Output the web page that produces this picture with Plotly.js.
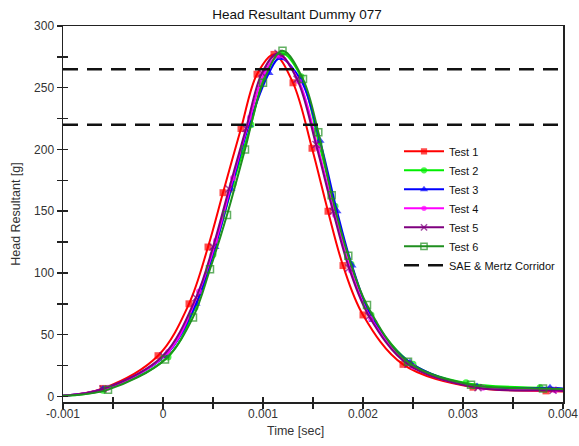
<!DOCTYPE html>
<html><head><meta charset="utf-8">
<script src="https://cdn.plot.ly/plotly-3.0.1.min.js"></script>
<style>html,body{margin:0;padding:0;background:#fff}#chart{width:579px;height:446px}</style>
</head><body><div id="chart"></div>
<script>
// ---- data (time in ms, head resultant in g) ----
const test1TimeMs = [-1.0, -0.6, -0.05, 0.26, 0.45, 0.60, 0.78, 0.94, 1.11, 1.30, 1.49, 1.65, 1.80, 2.00, 2.40, 3.10, 3.83, 4.0];
const test1G      = [0.5, 6.5, 33, 75, 121, 165, 217, 261, 277, 254, 201, 150, 106, 66, 26, 7.5, 4.5, 4];

const test2TimeMs = [-1.0, -0.6, 0.05, 0.32, 0.50, 0.70, 0.88, 1.04, 1.19, 1.38, 1.56, 1.72, 1.88, 2.08, 2.50, 3.03, 3.77, 4.0];
const test2G      = [0.5, 5, 32, 72, 115, 172, 220, 265, 278, 259, 205, 154, 107, 66, 26, 11, 7, 6];

const test3TimeMs = [-1.0, -0.6, 0.02, 0.33, 0.52, 0.68, 0.86, 1.06, 1.17, 1.38, 1.57, 1.74, 1.89, 2.10, 2.47, 3.14, 3.87, 4.0];
const test3G      = [0.5, 6, 33, 75, 121, 168, 220, 262, 274, 256, 207, 150, 106, 62, 27.5, 8, 7, 6.5];

const test4TimeMs = [-1.0, -0.55, 0.05, 0.36, 0.53, 0.70, 0.87, 1.02, 1.16, 1.36, 1.55, 1.72, 1.88, 2.08, 2.50, 3.20, 3.92, 4.0];
const test4G      = [0.5, 7, 36, 85, 126, 177, 226, 263, 276, 255, 201, 147, 102, 63, 24, 7, 5, 4.5];

const test5TimeMs = [-1.0, -0.6, 0.0, 0.33, 0.50, 0.66, 0.83, 0.99, 1.15, 1.34, 1.53, 1.70, 1.86, 2.06, 2.45, 3.15, 3.90, 4.0];
const test5G      = [0.5, 6, 33, 80, 121, 168, 217, 262, 278, 257, 204, 150, 104, 65, 26, 7, 5, 4.5];

const test6TimeMs = [-1.0, -0.55, 0.02, 0.30, 0.47, 0.64, 0.82, 1.00, 1.195, 1.40, 1.553, 1.687, 1.853, 2.04, 2.45, 3.08, 3.80, 4.0];
const test6G      = [0.5, 5.5, 30, 64, 103, 147, 200, 254, 280, 257, 214, 163, 114, 74, 28, 9.5, 6.5, 6];

const seriesNames = ['Test 1', 'Test 2', 'Test 3', 'Test 4', 'Test 5', 'Test 6'];
const corridorLevels = [265, 220];
const corridorSpan = [-0.001, 0.004];
const corridorName = 'SAE & Mertz Corridor';

const xTickVals = [-0.001, 0, 0.001, 0.002, 0.003, 0.004];
const xTickText = ['-0.001', '0', '0.001', '0.002', '0.003', '0.004'];
const yTickVals = [0, 50, 100, 150, 200, 250, 300];
const yTickText = ['0', '50', '100', '150', '200', '250', '300'];

// ---- styles ----
const styles = [
  {color: '#ff0000', symbol: 'square', size: 7},
  {color: '#00ee00', symbol: 'circle', size: 7},
  {color: '#0000ff', symbol: 'triangle-up', size: 8},
  {color: '#ff00ff', symbol: 'circle', size: 6},
  {color: '#7f007f', symbol: 'x-thin-open', size: 7},
  {color: '#1f8f1f', symbol: 'square-open', size: 7}
];

const times = [test1TimeMs, test2TimeMs, test3TimeMs, test4TimeMs, test5TimeMs, test6TimeMs];
const values = [test1G, test2G, test3G, test4G, test5G, test6G];

const FONT = '"Liberation Sans", Arial, sans-serif';
const traces = seriesNames.map((name, i) => {
  const t = times[i].map(v => v / 1000);
  const st = styles[i];
  return {
    type: 'scatter', mode: 'lines+markers', name: name,
    x: t, y: values[i],
    line: {color: st.color, width: 2, shape: 'spline', smoothing: 1},
    marker: {
      color: st.color, symbol: st.symbol,
      size: t.map((_, k) => (k === 0 || k === t.length - 1) ? 0 : st.size),
      line: {color: st.color, width: (st.symbol.indexOf('open') >= 0) ? 1.5 : 0}
    },
    hoverinfo: 'skip'
  };
});

// corridor: one trace, gap between the two levels
const cx = [], cy = [];
corridorLevels.forEach((lv, i) => {
  if (i > 0) { cx.push(null); cy.push(null); }
  cx.push(corridorSpan[0], corridorSpan[1]);
  cy.push(lv, lv);
});
traces.push({
  type: 'scatter', mode: 'lines', name: corridorName, x: cx, y: cy,
  line: {color: '#111111', width: 2.5, dash: '15px,9px'}, hoverinfo: 'skip'
});
// dummy trace for overlay (inside ticks) axes
traces.push({type: 'scatter', x: [], y: [], xaxis: 'x2', yaxis: 'y2', showlegend: false, hoverinfo: 'skip'});

const xRange = [-0.001, 0.004];
const yRange = [-4.5, 300];

const layout = {
  width: 579, height: 446,
  paper_bgcolor: '#ffffff', plot_bgcolor: '#ffffff',
  margin: {l: 63, r: 16, t: 26, b: 44},
  font: {family: FONT, size: 12, color: '#222'},
  title: {text: 'Head Resultant Dummy 077', x: 0.513, xref: 'container', y: 0.969, yanchor: 'middle',
          font: {family: FONT, size: 13.5, color: '#111'}},
  showlegend: true,
  legend: {x: 0.672, y: 0.515, xanchor: 'left', yanchor: 'middle', bgcolor: 'rgba(0,0,0,0)',
           font: {family: FONT, size: 11, color: '#111'}, itemwidth: 40, tracegroupgap: 0},
  annotations: [{
    text: 'Time [sec]', xref: 'paper', yref: 'paper', x: 0.464, y: -0.078,
    xanchor: 'center', yanchor: 'middle', showarrow: false,
    font: {family: FONT, size: 12.5, color: '#333'}
  }],
  xaxis: {
    range: xRange, tickmode: 'array', tickvals: xTickVals, ticktext: xTickText,
    ticks: 'outside', ticklen: 5, tickwidth: 1.5, tickcolor: '#222', ticklabelstandoff: -5,
    minor: {dtick: 0.0005, tick0: 0, ticks: 'outside', ticklen: 5, tickwidth: 1.5, tickcolor: '#222'},
    showline: true, linecolor: '#222', linewidth: 1.5, mirror: true,
    showgrid: false, zeroline: false,
    tickfont: {family: FONT, size: 12, color: '#333'}
  },
  yaxis: {
    range: yRange, tickmode: 'array', tickvals: yTickVals, ticktext: yTickText,
    ticks: 'outside', ticklen: 5, tickwidth: 1.5, tickcolor: '#222',
    minor: {dtick: 25, tick0: 0, ticks: 'outside', ticklen: 5, tickwidth: 1.5, tickcolor: '#222'},
    showline: true, linecolor: '#222', linewidth: 1.5, mirror: true,
    showgrid: false, zeroline: false,
    tickfont: {family: FONT, size: 12, color: '#333'},
    title: {text: 'Head Resultant [g]', font: {family: FONT, size: 12.5, color: '#333'}, standoff: 10}
  },
  xaxis2: {
    overlaying: 'x', anchor: 'y2', range: xRange, tickmode: 'array', tickvals: xTickVals,
    ticks: 'inside', ticklen: 5, tickwidth: 1.5, tickcolor: '#222', showticklabels: false,
    minor: {dtick: 0.0005, tick0: 0, ticks: 'inside', ticklen: 5, tickwidth: 1.5, tickcolor: '#222'},
    showline: false, showgrid: false, zeroline: false
  },
  yaxis2: {
    overlaying: 'y', anchor: 'x2', range: yRange, tickmode: 'array', tickvals: yTickVals,
    ticks: 'inside', ticklen: 5, tickwidth: 1.5, tickcolor: '#222', showticklabels: false,
    minor: {dtick: 25, tick0: 0, ticks: 'inside', ticklen: 5, tickwidth: 1.5, tickcolor: '#222'},
    showline: false, showgrid: false, zeroline: false
  }
};

Plotly.newPlot('chart', traces, layout, {staticPlot: true, displayModeBar: false});
</script></body></html>
